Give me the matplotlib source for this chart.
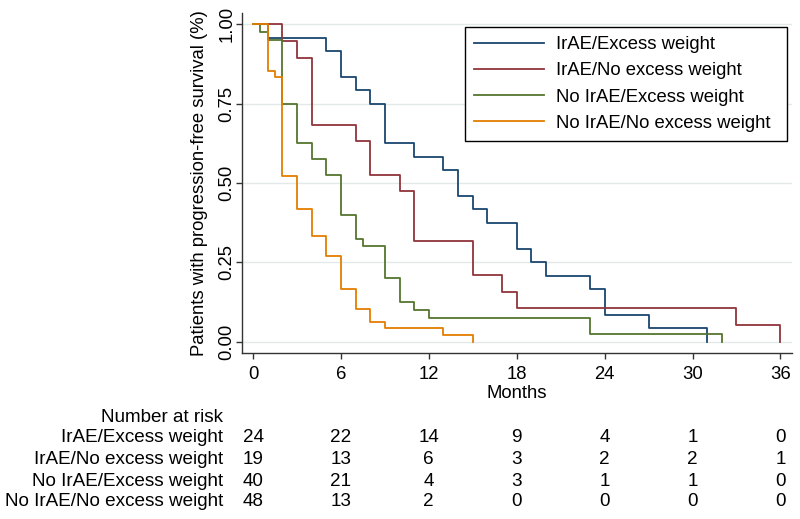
import numpy as np
import matplotlib
matplotlib.use("Agg")
import matplotlib.pyplot as plt
from matplotlib.transforms import blended_transform_factory

plt.rcParams['font.family'] = ['Liberation Sans', 'DejaVu Sans']

# Kaplan-Meier steps (months, survival)
groups = ["IrAE/Excess weight", "IrAE/No excess weight",
          "No IrAE/Excess weight", "No IrAE/No excess weight"]

t_irae_ew = [0, 1, 5, 6, 7, 8, 9, 11, 13, 14, 15, 16, 18, 19, 20, 23, 24, 27, 31]
s_irae_ew = [1.000, 0.958, 0.917, 0.833, 0.792, 0.750, 0.625, 0.583, 0.542, 0.458,
             0.417, 0.375, 0.292, 0.250, 0.208, 0.167, 0.083, 0.042, 0.000]

t_irae_new = [0, 2, 3, 4, 7, 8, 10, 11, 15, 17, 18, 33, 36]
s_irae_new = [1.000, 0.947, 0.895, 0.684, 0.632, 0.526, 0.474, 0.316, 0.211,
              0.158, 0.105, 0.053, 0.000]

t_noirae_ew = [0, 0.5, 1, 2, 3, 4, 5, 6, 7, 7.5, 9, 10, 11, 12, 23, 32]
s_noirae_ew = [1.000, 0.975, 0.950, 0.750, 0.625, 0.575, 0.525, 0.400, 0.325,
               0.300, 0.200, 0.125, 0.100, 0.075, 0.025, 0.000]

t_noirae_new = [0, 1, 1.5, 2, 3, 4, 5, 6, 7, 8, 9, 13, 15]
s_noirae_new = [1.000, 0.854, 0.833, 0.521, 0.417, 0.333, 0.271, 0.167, 0.104,
                0.063, 0.042, 0.021, 0.000]

# number at risk table
risk_times = [0, 6, 12, 18, 24, 30, 36]
risk_irae_ew = [24, 22, 14, 9, 4, 1, 0]
risk_irae_new = [19, 13, 6, 3, 2, 2, 1]
risk_noirae_ew = [40, 21, 4, 3, 1, 1, 0]
risk_noirae_new = [48, 13, 2, 0, 0, 0, 0]

colors = ["#1a476f", "#90353b", "#55752f", "#e37e00"]

fig = plt.figure(figsize=(8, 5.19), dpi=100)
ax = fig.add_axes([0.3029, 0.3193, 0.6867, 0.6557])

curves = [(t_irae_ew, s_irae_ew), (t_irae_new, s_irae_new),
          (t_noirae_ew, s_noirae_ew), (t_noirae_new, s_noirae_new)]
for (t, s), c, name in zip(curves, colors, groups):
    ax.step(t, s, where='post', color=c, lw=1.3, label=name)

ax.set_xlim(-0.73, 36.77)
ax.set_ylim(-0.0366, 1.036)
ax.set_xticks(risk_times)
ax.set_yticks([0, 0.25, 0.5, 0.75, 1.0])
ax.set_yticklabels(["0.00", "0.25", "0.50", "0.75", "1.00"])
ax.grid(axis='y', color='#e3e8e9', lw=1.0)
ax.set_axisbelow(True)

for side in ['top', 'right']:
    ax.spines[side].set_visible(False)
for side in ['left', 'bottom']:
    ax.spines[side].set_color('#333333')
    ax.spines[side].set_linewidth(1.0)

ax.tick_params(axis='both', direction='out', length=4.5, width=1.0,
               color='#333333', labelsize=13.3)
ax.tick_params(axis='x', pad=5)
ax.tick_params(axis='y', pad=6.5)
plt.setp(ax.get_yticklabels(), rotation=90, va='center', ha='center')

fig.text(200 / 800, 1 - 183 / 519, "Patients with progression-free survival (%)",
         rotation=90, ha='center', va='center', fontsize=13.3)
fig.text(517 / 800, 1 - 393 / 519, "Months", ha='center', va='center', fontsize=13.3)

# legend box spans x 465..787, y 27..140 px
ax.legend(loc='upper left',
          bbox_to_anchor=(465 / 800, 1 - 140 / 519, 322 / 800, 113 / 519),
          bbox_transform=fig.transFigure, mode='expand', borderaxespad=0,
          fontsize=13.3, frameon=True, fancybox=False, edgecolor='black',
          framealpha=1, handlelength=3.8, handletextpad=0.65,
          labelspacing=0.5, borderpad=0.5)

# number at risk table
tr = blended_transform_factory(ax.transData, fig.transFigure)
fig.text(223 / 800, 1 - 418 / 519, "Number at risk", ha='right', va='center', fontsize=13.6)
rows = [risk_irae_ew, risk_irae_new, risk_noirae_ew, risk_noirae_new]
row_y = [438, 459.5, 481, 502]
for name, vals, y in zip(groups, rows, row_y):
    fy = 1 - y / 519
    fig.text(223 / 800, fy, name, ha='right', va='center', fontsize=13.6)
    for t, v in zip(risk_times, vals):
        ax.text(t, fy, str(v), transform=tr, ha='center', va='center', fontsize=13.6)

fig.savefig("out.png", dpi=100)
